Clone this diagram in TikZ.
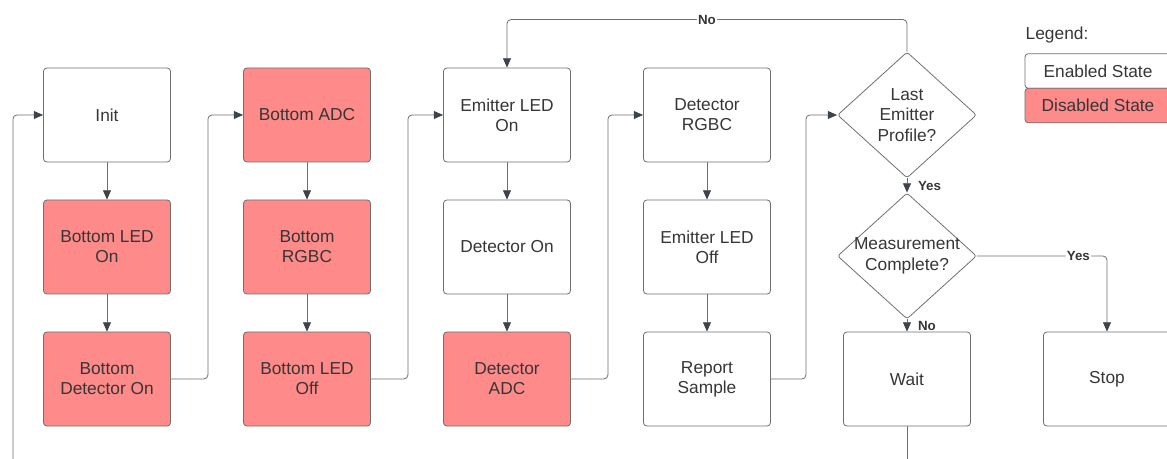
\documentclass[tikz,border=0pt]{standalone}
\usepackage{fontspec}
\setmainfont{Liberation Sans}
\usetikzlibrary{shapes.geometric,arrows.meta}
\definecolor{linegray}{HTML}{6F6F6F}
\definecolor{tipgray}{HTML}{3D434B}
\definecolor{txtgray}{HTML}{363636}
\definecolor{offred}{HTML}{FF8A8A}
\tikzset{
  state/.style={draw=linegray, rounded corners=2.5pt, minimum width=95.25pt, minimum height=70.5pt, align=center, text=txtgray, font=\fontsize{13}{15}\selectfont, line width=0.6pt},
  off/.style={state, fill=offred},
  decision/.style={draw=linegray, diamond, rounded corners=2pt, minimum width=104.25pt, minimum height=94.5pt, inner sep=-4pt, align=center, text=txtgray, font=\fontsize{13}{15.5}\selectfont, line width=0.6pt},
  flow/.style={draw=linegray, line width=0.6pt, rounded corners=3pt, -{Triangle[length=7pt,width=6pt,color=tipgray]}},
  yesno/.style={font=\bfseries\fontsize{10}{12}\selectfont, text=txtgray, inner sep=1pt}
}
\begin{document}
\begin{tikzpicture}[x=0.75pt,y=-0.75pt]
\useasboundingbox (0,0) rectangle (1167,459);
% states
\node[state] (init) at (107,115) {Init};
\node[off] (bled) at (107,247) {Bottom LED\\On};
\node[off] (bdet) at (107,379) {Bottom\\Detector On};
\node[off] (badc) at (307,115) {Bottom ADC};
\node[off] (brgbc) at (307,247) {Bottom\\RGBC};
\node[off] (bledoff) at (307,379) {Bottom LED\\Off};
\node[state] (eon) at (507,115) {Emitter LED\\On};
\node[state] (don) at (507,247) {Detector On};
\node[off] (dadc) at (507,379) {Detector\\ADC};
\node[state] (drgbc) at (707,115) {Detector\\RGBC};
\node[state] (eoff) at (707,247) {Emitter LED\\Off};
\node[state] (report) at (707,379) {Report\\Sample};
\node[decision] (last) at (907,115) {Last\\Emitter\\Profile?};
\node[decision] (meas) at (907,256) {Measurement\\Complete?\vphantom{g}};
\node[state] (wait) at (907,379) {Wait};
\node[state] (stop) at (1107,379) {Stop};
% legend
\node[anchor=west, text=txtgray, font=\fontsize{13}{15}\selectfont] (legend) at (1021,35) {Legend:};
\node[state, minimum width=109.5pt, minimum height=26pt] (enabled) at (1098,71) {Enabled State};
\node[off, minimum width=109.5pt, minimum height=26pt] (disabled) at (1098,105.5) {Disabled State};
% transitions
\draw[flow] (init) -- (bled);
\draw[flow] (bled) -- (bdet);
\draw[flow] (bdet.east) -- ++(37,0) |- (badc.west);
\draw[flow] (badc) -- (brgbc);
\draw[flow] (brgbc) -- (bledoff);
\draw[flow] (bledoff.east) -- ++(37,0) |- (eon.west);
\draw[flow] (eon) -- (don);
\draw[flow] (don) -- (dadc);
\draw[flow] (dadc.east) -- ++(37,0) |- (drgbc.west);
\draw[flow] (drgbc) -- (eoff);
\draw[flow] (eoff) -- (report);
\draw[flow] (report.east) -- ++(35,0) |- (last.west);
\draw[flow] (last.north) -- ++(0,-32) -| node[pos=0.25, yesno, fill=white] {No} (eon.north);
\draw[flow] (last) -- node[yesno, right=7pt] {Yes} (meas);
\draw[flow] (meas) -- node[yesno, right=7pt] {No} (wait);
\draw[flow] (meas.east) -| node[pos=0.39, yesno, fill=white] {Yes} (stop.north);
% loop back to init
\coordinate (loopdown) at (907,470);
\coordinate (loopup) at (13,470);
\draw[draw=linegray, line width=0.6pt] (wait) -- (loopdown);
\draw[flow] (loopup) |- (init.west);
\end{tikzpicture}
\end{document}
